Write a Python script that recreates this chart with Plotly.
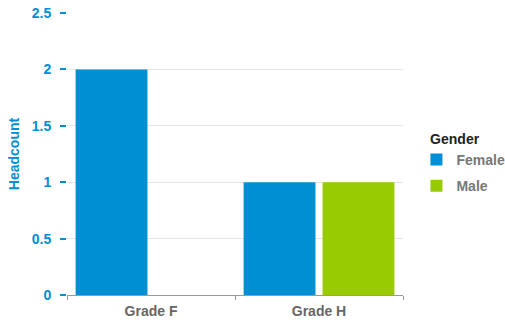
import plotly.graph_objects as go

# Headcount by grade, split by gender
grades = ["Grade F", "Grade H"]
female = [2, 1]
male = [None, 1]
y_ticks = [0, 0.5, 1, 1.5, 2, 2.5]
y_tick_text = ["0", "0.5", "1", "1.5", "2", "2.5"]

BLUE = "#008FD3"
GREEN = "#99CC00"
FONT = "Liberation Sans, Arial, sans-serif"

fig = go.Figure()
fig.add_trace(go.Bar(name="Female", x=grades, y=female, legendgroup="f",
                     marker=dict(color=BLUE, line_width=0)))
fig.add_trace(go.Bar(name="Male", x=grades, y=male, legendgroup="m",
                     marker=dict(color=GREEN, line_width=0)))

fig.update_layout(
    width=505, height=325,
    margin=dict(l=67, r=102, t=13, b=30, autoexpand=False),
    barmode="group", bargap=0.06, bargroupgap=0.09,
    plot_bgcolor="white", paper_bgcolor="white",
    font=dict(family=FONT, size=14),
    legend=dict(
        title=dict(text="&nbsp;&nbsp;&nbsp;<b>Gender</b>", font=dict(color="#222222", size=14)),
        font=dict(color="#777777", size=14, weight="bold"),
        x=1.04, xanchor="left", y=0.6, yanchor="top",
        traceorder="grouped", tracegroupgap=5, itemwidth=30,
    ),
    xaxis=dict(
        showline=True, linecolor="#999999", linewidth=1,
        ticks="outside", tickson="boundaries", ticklen=4, tickcolor="#999999",
        tickfont=dict(color="#666666", size=14, family=FONT, weight="bold"),
        ticklabelstandoff=3,
        showgrid=False,
    ),
    yaxis=dict(
        range=[0, 2.5], tickvals=y_ticks, ticktext=y_tick_text,
        ticks="outside", ticklen=6, tickcolor=BLUE, tickwidth=1.5,
        tickfont=dict(color=BLUE, size=14, family=FONT, weight="bold"),
        ticklabelstandoff=6,
        showgrid=True, gridcolor="#E6E6E6", gridwidth=1,
        zeroline=False, showline=False,
        title=dict(text="<b>Headcount</b>", font=dict(color=BLUE, size=14), standoff=8),
    ),
)

fig.write_html("out.html")
